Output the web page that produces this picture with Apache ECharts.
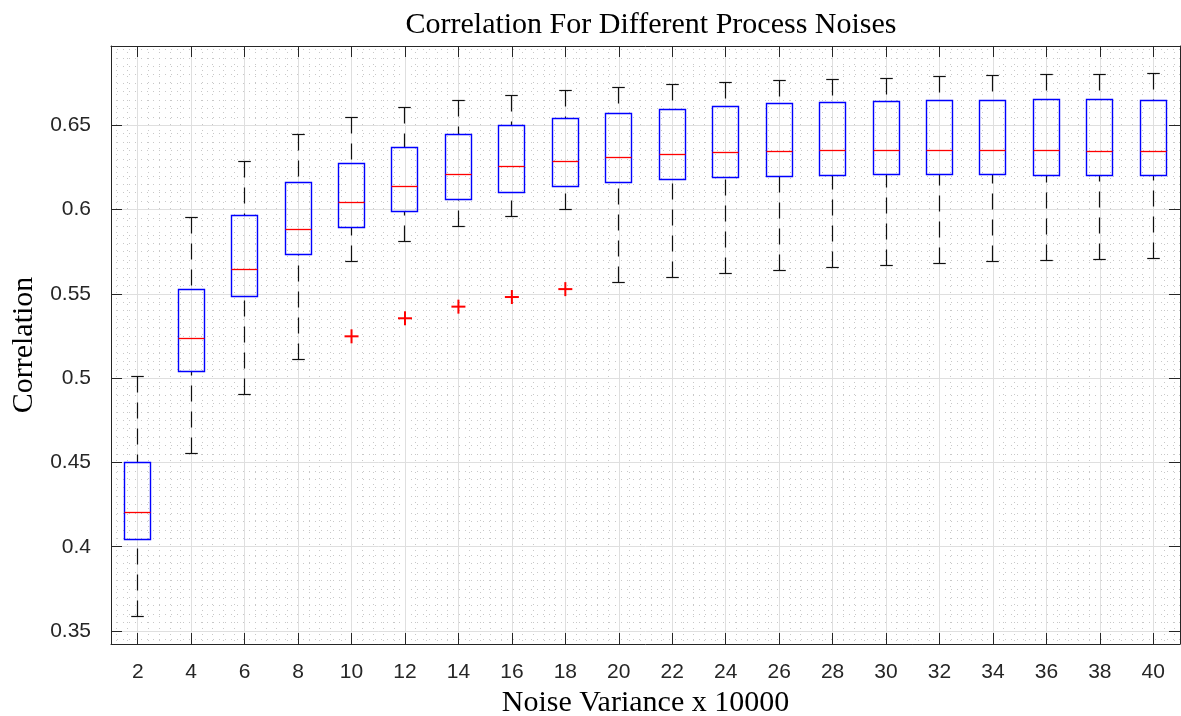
<!DOCTYPE html>
<html>
<head>
<meta charset="utf-8">
<title>Correlation For Different Process Noises</title>
<script src="https://cdn.jsdelivr.net/npm/echarts@6/dist/echarts.min.js"></script>
<style>
  html, body { margin: 0; padding: 0; background: #ffffff; }
  #chart { width: 1181px; height: 716px; }
</style>
</head>
<body>
<div id="chart"></div>
<script>
// Noise variance (x 10000) for each box
const categories = ['2', '4', '6', '8', '10', '12', '14', '16', '18', '20',
                    '22', '24', '26', '28', '30', '32', '34', '36', '38', '40'];

// Box statistics of the correlation for each noise variance
const lowerWhisker  = [0.3585, 0.4552, 0.4902, 0.5109, 0.5689, 0.5811, 0.5898, 0.5960, 0.6003, 0.5566,
                       0.5594, 0.5619, 0.5637, 0.5655, 0.5667, 0.5681, 0.5690, 0.5696, 0.5702, 0.5708];
const lowerQuartile = [0.4044, 0.5038, 0.5487, 0.5736, 0.5892, 0.5989, 0.6058, 0.6104, 0.6138, 0.6161,
                       0.6177, 0.6191, 0.6197, 0.6200, 0.6205, 0.6206, 0.6205, 0.6203, 0.6200, 0.6199];
const medianValue   = [0.4204, 0.5234, 0.5645, 0.5884, 0.6040, 0.6139, 0.6206, 0.6254, 0.6286, 0.6310,
                       0.6325, 0.6337, 0.6345, 0.6349, 0.6353, 0.6353, 0.6353, 0.6349, 0.6347, 0.6343];
const upperQuartile = [0.4498, 0.5528, 0.5967, 0.6163, 0.6276, 0.6367, 0.6444, 0.6499, 0.6541, 0.6572,
                       0.6594, 0.6610, 0.6626, 0.6636, 0.6642, 0.6648, 0.6649, 0.6651, 0.6653, 0.6649];
const upperWhisker  = [0.5008, 0.5951, 0.6284, 0.6448, 0.6543, 0.6604, 0.6645, 0.6679, 0.6705, 0.6722,
                       0.6740, 0.6752, 0.6764, 0.6772, 0.6780, 0.6788, 0.6794, 0.6798, 0.6801, 0.6805];

// Outliers
const outlierCategory = ['10', '12', '14', '16', '18'];
const outlierValue    = [0.5248, 0.5355, 0.5424, 0.5481, 0.5528];

const axisColor = '#262626';
const tickFont = { fontFamily: '"Liberation Sans", Arial, Helvetica, sans-serif', fontSize: 21, color: '#262626' };
const serifFont = '"Liberation Serif", "Times New Roman", serif';

const boxData = categories.map((c, i) => [i, lowerWhisker[i], lowerQuartile[i], medianValue[i], upperQuartile[i], upperWhisker[i]]);
const outlierData = outlierCategory.map((c, k) => [categories.indexOf(c), outlierValue[k]]);

const crisp = v => Math.round(v - 0.5) + 0.5;

function renderBox(params, api) {
  const idx = api.value(0);
  const band = api.size([1, 0])[0];
  const half = band * 0.25;
  const capHalf = half * 0.47;
  const at = v => api.coord([idx, v]);
  const cx = crisp(at(api.value(3))[0]);
  const yMin = crisp(at(api.value(1))[1]);
  const yQ1 = crisp(at(api.value(2))[1]);
  const yMed = crisp(at(api.value(3))[1]);
  const yQ3 = crisp(at(api.value(4))[1]);
  const yMax = crisp(at(api.value(5))[1]);
  const left = crisp(cx - half), right = crisp(cx + half);
  const whisker = { stroke: '#111111', lineWidth: 1.2, lineDash: [16, 10] };
  const cap = { stroke: '#111111', lineWidth: 1.2 };
  return {
    type: 'group',
    children: [
      { type: 'line', shape: { x1: cx, y1: yMax, x2: cx, y2: yQ3 }, style: whisker },
      { type: 'line', shape: { x1: cx, y1: yMin, x2: cx, y2: yQ1 }, style: whisker },
      { type: 'line', shape: { x1: cx - capHalf, y1: yMax, x2: cx + capHalf, y2: yMax }, style: cap },
      { type: 'line', shape: { x1: cx - capHalf, y1: yMin, x2: cx + capHalf, y2: yMin }, style: cap },
      { type: 'rect', shape: { x: left, y: yQ3, width: right - left, height: yQ1 - yQ3 },
        style: { fill: 'none', stroke: '#0000ff', lineWidth: 1.4 } },
      { type: 'line', shape: { x1: left, y1: yMed, x2: right, y2: yMed },
        style: { stroke: '#ff0000', lineWidth: 1.3 } }
    ]
  };
}

function renderOutlier(params, api) {
  const p = api.coord([api.value(0), api.value(1)]);
  const s = 7;
  const st = { stroke: '#ff0000', lineWidth: 2 };
  return {
    type: 'group',
    children: [
      { type: 'line', shape: { x1: p[0] - s, y1: p[1], x2: p[0] + s, y2: p[1] }, style: st },
      { type: 'line', shape: { x1: p[0], y1: p[1] - s, x2: p[0], y2: p[1] + s }, style: st }
    ]
  };
}

const yMin = 0.3423, yMax = 0.697;
const minorGrid = { color: '#c8c8c8', width: 1, type: [1, 5] };
const majorGrid = { color: '#dfdfdf', width: 1 };

const chart = echarts.init(document.getElementById('chart'), null, { renderer: 'canvas' });
chart.setOption({
  animation: false,
  backgroundColor: '#ffffff',
  title: {
    text: 'Correlation For Different Process Noises',
    left: 646, top: 5, textAlign: 'center',
    textStyle: { fontFamily: serifFont, fontSize: 30, fontWeight: 'normal', color: '#000000' }
  },
  grid: { left: 111, right: 1, top: 46, bottom: 72, containLabel: false, outerBoundsMode: 'none' },
  xAxis: [
    {
      type: 'category', data: categories, position: 'bottom', boundaryGap: true,
      axisLine: { show: true, lineStyle: { color: axisColor, width: 1 } },
      axisTick: { show: true, inside: true, length: 11, alignWithLabel: true, lineStyle: { color: axisColor } },
      axisLabel: Object.assign({ margin: 18, interval: 0 }, tickFont),
      splitLine: { show: false },
      name: 'Noise Variance x 10000', nameLocation: 'middle', nameGap: 38,
      nameTextStyle: { fontFamily: serifFont, fontSize: 30, color: '#000000' }
    },
    {
      type: 'category', data: categories, position: 'top', boundaryGap: true,
      axisLine: { show: true, lineStyle: { color: axisColor, width: 1 } },
      axisTick: { show: true, inside: true, length: 11, alignWithLabel: true, lineStyle: { color: axisColor } },
      axisLabel: { show: false },
      splitLine: { show: false }
    },
    {
      // grid lines in noise-variance units: majors every 2, minors every 0.4
      type: 'value', min: 1, max: 41, splitNumber: 20, position: 'bottom',
      axisLine: { show: false }, axisTick: { show: false }, axisLabel: { show: false },
      splitLine: { show: true, lineStyle: majorGrid },
      minorTick: { show: false, splitNumber: 5 },
      minorSplitLine: { show: true, lineStyle: minorGrid }
    }
  ],
  yAxis: [
    {
      type: 'value', min: yMin, max: yMax, splitNumber: 7, position: 'left',
      axisLine: { show: true, lineStyle: { color: axisColor, width: 1 } },
      axisTick: { show: true, inside: true, length: 11, lineStyle: { color: axisColor } },
      axisLabel: Object.assign({ margin: 20, showMinLabel: false, showMaxLabel: false }, tickFont),
      splitLine: { show: true, lineStyle: majorGrid },
      minorTick: { show: false, splitNumber: 10 },
      minorSplitLine: { show: true, lineStyle: minorGrid },
      name: 'Correlation', nameLocation: 'middle', nameRotate: 90, nameGap: 72,
      nameTextStyle: { fontFamily: serifFont, fontSize: 30, color: '#000000' }
    },
    {
      type: 'value', min: yMin, max: yMax, splitNumber: 7, position: 'right',
      axisLine: { show: true, lineStyle: { color: axisColor, width: 1 } },
      axisTick: { show: true, inside: true, length: 11, lineStyle: { color: axisColor } },
      axisLabel: { show: false },
      splitLine: { show: false }
    }
  ],
  series: [
    {
      name: 'Correlation', type: 'custom', xAxisIndex: 0, yAxisIndex: 0, silent: true,
      renderItem: renderBox, encode: { x: 0, y: [1, 2, 3, 4, 5] }, data: boxData, z: 3
    },
    {
      name: 'Outliers', type: 'custom', xAxisIndex: 0, yAxisIndex: 0, silent: true,
      renderItem: renderOutlier, encode: { x: 0, y: 1 }, data: outlierData, z: 4
    }
  ]
});
</script>
</body>
</html>
